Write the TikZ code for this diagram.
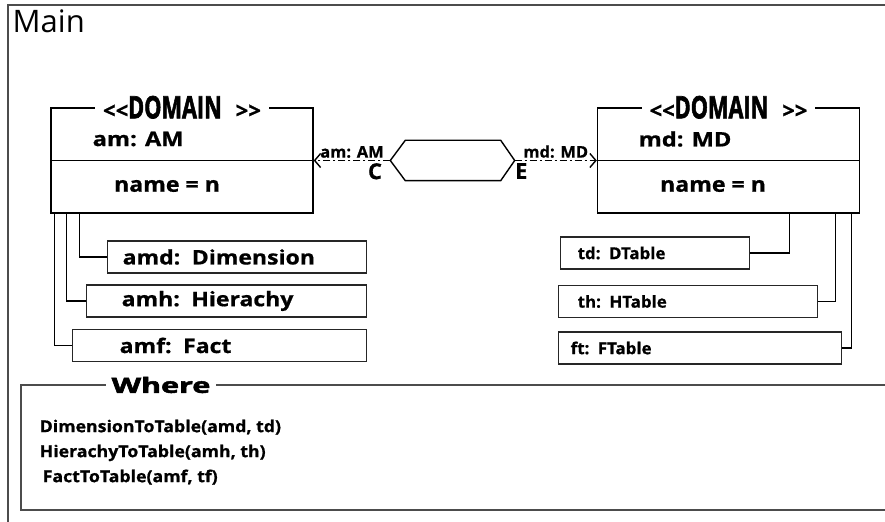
\documentclass[tikz,border=0pt]{standalone}
\usepackage{fontspec}
\setmainfont{Open Sans}[BoldFeatures={FakeBold=0.8}]
\newfontfamily\heavyfont{Open Sans}[BoldFeatures={FakeBold=2.2}]
\usetikzlibrary{arrows.meta,positioning}
% horizontal stretch of a label
\newcommand{\stretchx}[2]{\scalebox{#1}[1]{#2}}
\newcommand{\stereotype}{{\fontsize{11}{11}\selectfont<\kern0pt<}\stretchx{0.7}{\heavyfont\bfseries\fontsize{15.5}{16}\selectfont DOMAIN}\hspace{7pt}{\fontsize{11}{11}\selectfont>\kern0pt>}}

\begin{document}
\begin{tikzpicture}[x=0.5pt, y=-0.5pt, line width=0.7pt, >={Straight Barb[length=3pt,width=7pt]}]
\tikzset{
  framebox/.style={rectangle, inner sep=0pt, anchor=north west},
  frameline/.style={draw=black!70, line width=1pt},
  dombox/.style={rectangle, draw, minimum width=131pt, minimum height=52.5pt, inner sep=0pt},
  stereo/.style={fill=white, inner xsep=4pt, inner ysep=0pt, font=\bfseries},
  attr/.style={inner sep=0pt, font=\bfseries\fontsize{10}{10}\selectfont},
  partbox/.style 2 args={rectangle, draw=black!85, anchor=west, minimum height=16pt, inner ysep=0pt,
    inner xsep=#2, text width=#1, align=left, font=\bfseries\fontsize{10}{11}\selectfont},
  tbl/.style={font=\bfseries\fontsize{8.2}{9}\selectfont},
  flow/.style={->, dash pattern=on 3.5pt off 1.5pt on 1pt off 1.5pt},
  flowlbl/.style={inner sep=1pt, font=\bfseries\fontsize{8}{8}\selectfont},
  endlbl/.style={inner sep=1pt, font=\bfseries\fontsize{11}{11}\selectfont}
}
\useasboundingbox (0,0) rectangle (885,522);
\clip (0,0) rectangle (885,522);

% outer frame, open on the right and at the bottom
\node[framebox, minimum width=445pt, minimum height=265pt] (main) at (8,5) {};
\draw[frameline] (main.north east) -- (main.north west) -- (main.south west);
\node[anchor=north west, inner sep=0pt, font=\fontsize{15.5}{16}\selectfont] (mainlbl) at (12,9) {Main};

% the two domains
\node[dombox] (am) at (182,160.5) {};
\node[stereo] (amS) at (am.north) {\stereotype};
\draw (am.west) -- (am.east);
\node[attr, anchor=west] (amN) at (92,139) {\stretchx{1.18}{am: AM}};
\node[attr] (amV) at (167,186) {\stretchx{1.1}{\fontsize{10.5}{10}\selectfont name = n}};

\node[dombox] (md) at (728.5,160.5) {};
\node[stereo] (mdS) at (md.north) {\stereotype};
\draw (md.west) -- (md.east);
\node[attr, anchor=west] (mdN) at (638,139) {\stretchx{1.18}{md: MD}};
\node[attr] (mdV) at (713,186) {\stretchx{1.1}{\fontsize{10.5}{10}\selectfont name = n}};

% relation between them
\node[minimum width=61.5pt, minimum height=19.5pt, inner sep=0pt] (link) at (452.5,160.5) {};
\draw (link.west) -- ([xshift=7.5pt]link.north west) -- ([xshift=-7pt]link.north east) -- (link.east)
  -- ([xshift=-7pt]link.south east) -- ([xshift=7.5pt]link.south west) -- cycle;
\draw[flow] (link.west) -- (am.east)
  node[flowlbl, midway, above] {\stretchx{1.03}{am: AM}}
  node[endlbl, pos=0.2, below] {C};
\draw[flow] (link.east) -- (md.west)
  node[flowlbl, midway, above] {\stretchx{1.03}{md: MD}}
  node[endlbl, pos=0.08, below] {E};

% parts of am
\node[partbox={114.5pt}{7.5pt}] (amd) at (107,257) {\stretchx{1.15}{amd: Dimension}};
\node[partbox={105pt}{17.5pt}] (amh) at (86,301) {\stretchx{1.15}{amh: Hierachy}};
\node[partbox={100pt}{23.5pt}] (amf) at (72,345.5) {\stretchx{1.15}{amf: Fact}};
\draw ([xshift=14.5pt]am.south west) |- (amd.west);
\draw ([xshift=8pt]am.south west) |- (amh.west);
\draw ([xshift=2pt]am.south west) |- (amf.west);

% tables of md
\node[partbox={77.5pt}{8.5pt}, tbl] (td) at (560,253) {\stretchx{1.03}{td: DTable}};
\node[partbox={110.5pt}{9.5pt}, tbl] (th) at (558,301.5) {\stretchx{1.03}{th: HTable}};
\node[partbox={129.5pt}{6pt}, tbl] (ft) at (558,348) {\stretchx{1.03}{ft: FTable}};
\draw (td.east) -| ([xshift=-35.5pt]md.south east);
\draw (th.east) -| ([xshift=-12.5pt]md.south east);
\draw (ft.east) -| ([xshift=-4.5pt]md.south east);

% where clause, open on the right
\node[framebox, minimum width=440pt, minimum height=62pt] (where) at (21,385) {};
\draw[frameline] (where.north east) -- (where.north west) -- (where.south west) -- (where.south east);
\node[fill=white, inner xsep=3pt, inner ysep=0pt, font=\heavyfont\bfseries\fontsize{10.5}{10}\selectfont] (whereT) at (161,385) {\stretchx{1.45}{Where}};
\node[anchor=north west, inner sep=0pt, align=left, font=\bfseries\fontsize{8.2}{12.5}\selectfont] (rules) at (39,419)
  {\stretchx{1.08}{DimensionToTable(amd, td)}\\
   \stretchx{1.08}{HierachyToTable(amh, th)}\\
   \hspace*{1.5pt}\stretchx{1.08}{FactToTable(amf, tf)}};
\end{tikzpicture}
\end{document}
